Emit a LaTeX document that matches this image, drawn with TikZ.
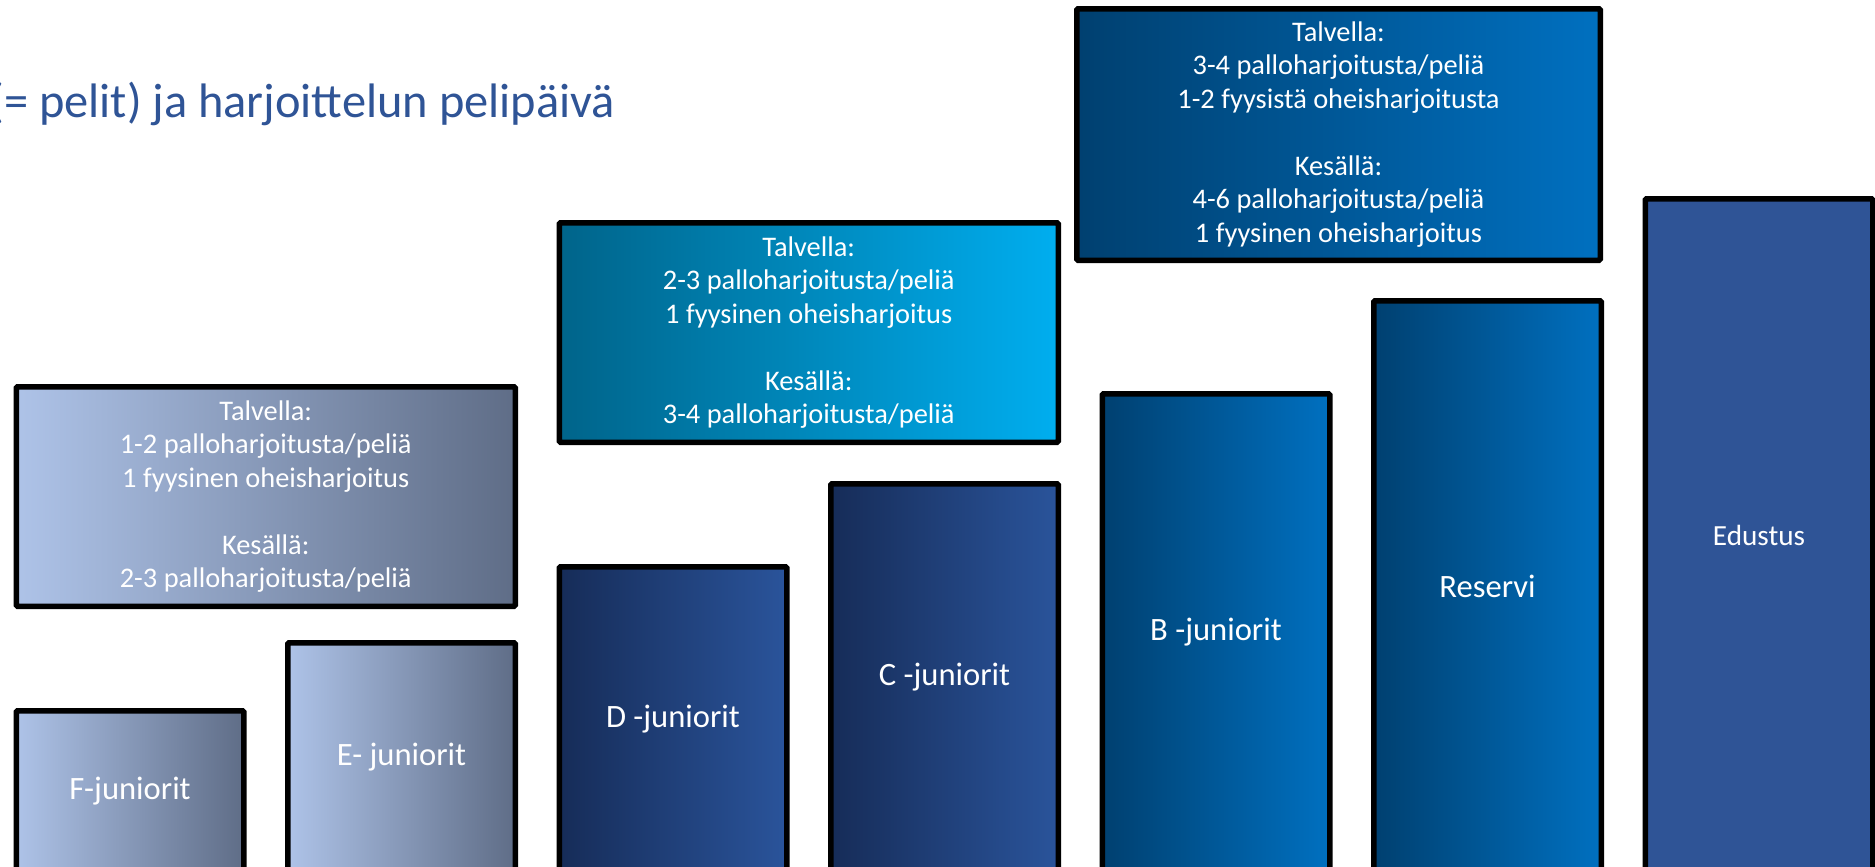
\documentclass[tikz,border=0pt]{standalone}
\usepackage{fontspec}
\setmainfont{Carlito}
\definecolor{titleblue}{HTML}{2F5496}
\definecolor{grayL}{HTML}{AEC3E8}
\definecolor{grayR}{HTML}{5F6D87}
\definecolor{navyL}{HTML}{162C58}
\definecolor{navyR}{HTML}{2A549B}
\definecolor{cyanL}{HTML}{00648A}
\definecolor{cyanR}{HTML}{00AEEF}
\definecolor{blueL}{HTML}{004070}
\definecolor{blueR}{HTML}{0070C0}
\definecolor{edfill}{HTML}{2F5496}
\newcommand\ubox[7]{\node[#2, minimum width={(#5-#3-5.5)*0.5pt}, minimum height={(#6-#4-5.5)*0.5pt}] (#1) at ({(#3+#5)/2},{(#4+#6)/2}) {#7};}
\begin{document}
\begin{tikzpicture}[x=0.5pt,y=-0.5pt,
  panel/.style={draw=black, line width=2.75pt, rounded corners=0.6pt, inner sep=0pt, text=white, align=center},
  infotext/.style={font=\fontsize{14.2}{16.75}\selectfont},
  labeltext/.style={font=\fontsize{16.3}{19}\selectfont},
  grayshade/.style={panel, left color=grayL, right color=grayR},
  navyshade/.style={panel, left color=navyL, right color=navyR},
  cyanshade/.style={panel, left color=cyanL, right color=cyanR},
  blueshade/.style={panel, left color=blueL, right color=blueR},
  edshade/.style={panel, fill=edfill}]
\useasboundingbox (0,0) rectangle (1875,867);
\clip (0,0) rectangle (1875,867);
\node[anchor=base west, inner sep=0pt, text=titleblue, font=\fontsize{24.2}{28}\selectfont] (title) at (-11,117) {(= pelit) ja harjoittelun pelipäivä};
% left group
\ubox{linfo}{grayshade,infotext}{13.5}{384}{518}{609}{Talvella:\\1-2 palloharjoitusta/peliä\\1 fyysinen oheisharjoitus\\[16.75pt]Kesällä:\\2-3 palloharjoitusta/peliä}
\ubox{fjun}{grayshade,labeltext}{13.5}{708}{246.5}{874}{F-juniorit}
\ubox{ejun}{grayshade,labeltext}{285}{640}{518}{874}{E- juniorit}
% middle group
\ubox{dcinfo}{cyanshade,infotext}{556.5}{220}{1061}{445}{Talvella:\\2-3 palloharjoitusta/peliä\\1 fyysinen oheisharjoitus\\[16.75pt]Kesällä:\\3-4 palloharjoitusta/peliä}
\ubox{djun}{navyshade,labeltext}{556.5}{564}{789.5}{874}{D -juniorit}
\ubox{cjun}{navyshade,labeltext}{828}{481}{1061}{874}{C -juniorit}
% right group
\ubox{binfo}{blueshade,infotext}{1074}{6}{1603}{263}{Talvella:\\3-4 palloharjoitusta/peliä\\1-2 fyysistä oheisharjoitusta\\[16.75pt]Kesällä:\\4-6 palloharjoitusta/peliä\\1 fyysinen oheisharjoitus}
\ubox{bjun}{blueshade,labeltext}{1099.5}{391}{1332.5}{874}{B -juniorit}
\ubox{reservi}{blueshade,labeltext}{1371}{298}{1604}{874}{Reservi}
\ubox{edustus}{edshade,font=\fontsize{14.6}{18}\selectfont}{1642.5}{196}{1875.5}{874}{Edustus}
\end{tikzpicture}
\end{document}
